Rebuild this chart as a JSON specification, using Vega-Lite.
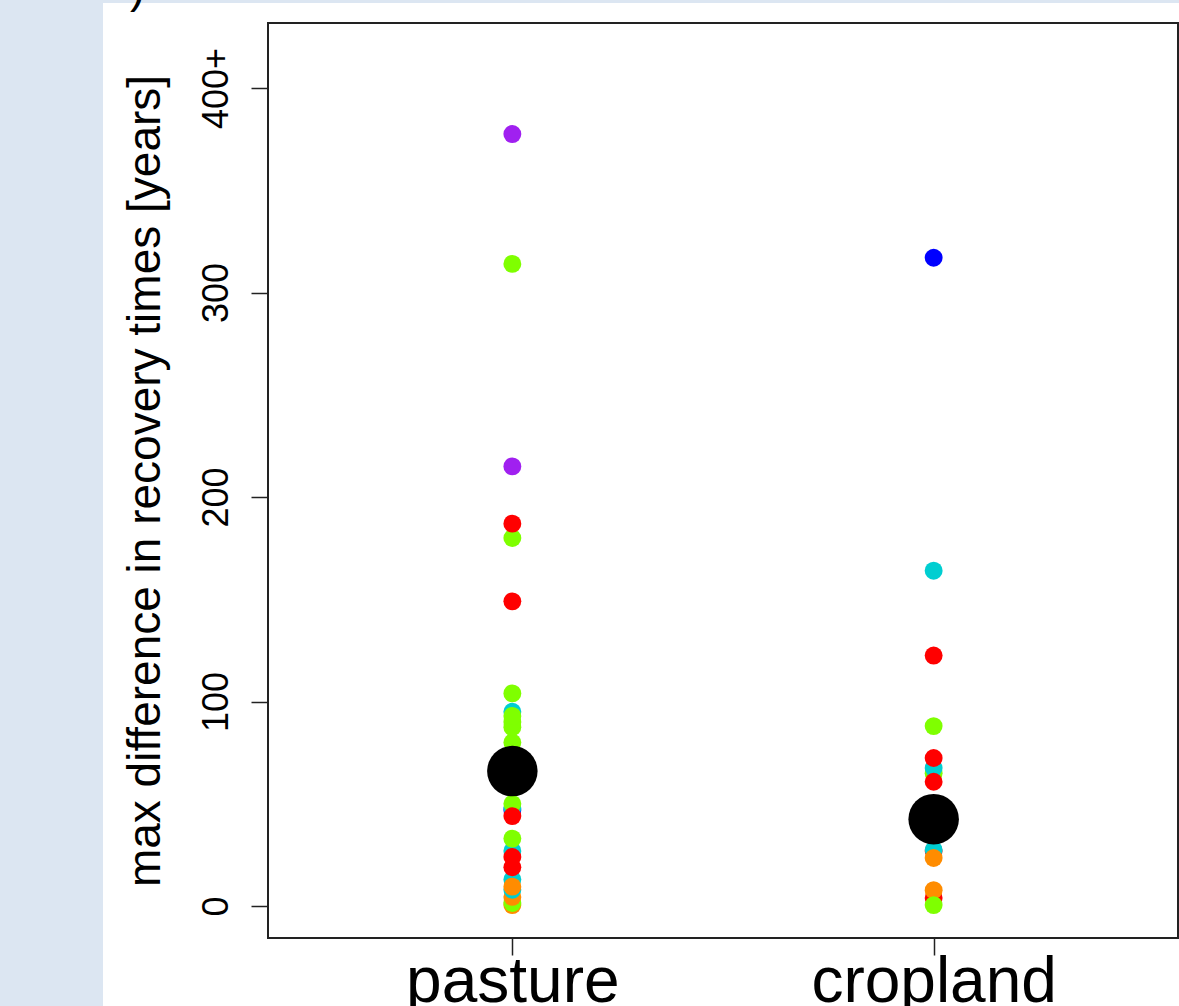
{
  "$schema": "https://vega.github.io/schema/vega-lite/v6.json",
  "autosize": {"type": "none"},
  "width": 910,
  "height": 915,
  "padding": {"left": 268, "top": 23, "right": 1, "bottom": 68},
  "background": "#dce6f2",
  "title": {"text": ")", "anchor": "start", "frame": "group", "dx": -138, "dy": 45, "offset": 0, "baseline": "alphabetic", "fontSize": 46, "fontWeight": "normal", "font": "Liberation Sans", "color": "black", "zindex": 2},
  "config": {
    "font": "Liberation Sans",
    "view": {"stroke": null},
    "axis": {"grid": false, "domain": false, "tickColor": "#222222", "tickWidth": 1.5, "tickSize": 17, "labelColor": "black", "titleColor": "black", "labelFont": "Liberation Sans", "titleFont": "Liberation Sans", "titleFontWeight": "normal"}
  },
  "datasets": {
    "obs": [
      {"land": "pasture", "class": "group 6", "value": 0.5},
      {"land": "pasture", "class": "group 2", "value": 1.5},
      {"land": "pasture", "class": "group 6", "value": 4.5},
      {"land": "pasture", "class": "group 4", "value": 13},
      {"land": "pasture", "class": "group 4", "value": 8},
      {"land": "pasture", "class": "group 6", "value": 9.5},
      {"land": "pasture", "class": "group 4", "value": 27},
      {"land": "pasture", "class": "group 3", "value": 19},
      {"land": "pasture", "class": "group 3", "value": 24},
      {"land": "pasture", "class": "group 2", "value": 33},
      {"land": "pasture", "class": "group 5", "value": 47},
      {"land": "pasture", "class": "group 4", "value": 48},
      {"land": "pasture", "class": "group 2", "value": 50},
      {"land": "pasture", "class": "group 3", "value": 44},
      {"land": "pasture", "class": "group 2", "value": 80},
      {"land": "pasture", "class": "group 4", "value": 95},
      {"land": "pasture", "class": "group 2", "value": 87.5},
      {"land": "pasture", "class": "group 2", "value": 90},
      {"land": "pasture", "class": "group 2", "value": 93},
      {"land": "pasture", "class": "group 2", "value": 104},
      {"land": "pasture", "class": "group 3", "value": 149},
      {"land": "pasture", "class": "group 2", "value": 180},
      {"land": "pasture", "class": "group 3", "value": 187},
      {"land": "pasture", "class": "group 1", "value": 215},
      {"land": "pasture", "class": "group 2", "value": 314},
      {"land": "pasture", "class": "group 1", "value": 377.5},
      {"land": "cropland", "class": "group 3", "value": 4},
      {"land": "cropland", "class": "group 6", "value": 7.8},
      {"land": "cropland", "class": "group 2", "value": 0.5},
      {"land": "cropland", "class": "group 3", "value": 27},
      {"land": "cropland", "class": "group 4", "value": 27.5},
      {"land": "cropland", "class": "group 6", "value": 23.5},
      {"land": "cropland", "class": "group 2", "value": 65},
      {"land": "cropland", "class": "group 4", "value": 67.5},
      {"land": "cropland", "class": "group 3", "value": 60.8},
      {"land": "cropland", "class": "group 3", "value": 72.4},
      {"land": "cropland", "class": "group 2", "value": 88},
      {"land": "cropland", "class": "group 3", "value": 122.5},
      {"land": "cropland", "class": "group 4", "value": 164},
      {"land": "cropland", "class": "group 5", "value": 317}
    ],
    "summary": [
      {"land": "pasture", "value": 66},
      {"land": "cropland", "value": 42.5}
    ]
  },
  "layer": [
    {
      "data": {"values": [{}]},
      "layer": [
        {
          "mark": {"type": "rect", "fill": "white", "clip": false},
          "encoding": {
            "x": {"datum": -0.1813, "type": "quantitative", "scale": {"domain": [0, 1], "nice": false, "zero": false}, "axis": null},
            "x2": {"datum": 1.01},
            "y": {"datum": -49, "type": "quantitative", "scale": {"domain": [-15.6, 431.8], "nice": false, "zero": false},
                  "axis": {"values": [0, 100, 200, 300, 400], "zindex": 1, "labelExpr": "datum.value == 400 ? '400+' : datum.label", "labelAngle": 270, "labelAlign": "center", "labelBaseline": "alphabetic", "labelPadding": 24, "labelFontSize": 36, "title": "max difference in recovery times [years]", "titleFontSize": 46, "titleBaseline": "alphabetic", "titlePadding": 39}},
            "y2": {"datum": 441.6}
          }
        },
        {
          "mark": {"type": "rect", "fill": null, "fillOpacity": 0, "stroke": "#222222", "strokeWidth": 2, "clip": false},
          "encoding": {
            "x": {"datum": 0, "type": "quantitative", "scale": {"domain": [0, 1], "nice": false, "zero": false}, "axis": null},
            "x2": {"datum": 1},
            "y": {"datum": -15.6, "type": "quantitative"},
            "y2": {"datum": 431.8}
          }
        }
      ]
    },
    {
      "layer": [
        {
          "data": {"name": "obs"},
          "mark": {"type": "point", "filled": true, "opacity": 1, "size": 320, "shape": "circle"},
          "encoding": {
            "x": {"field": "land", "type": "nominal", "sort": ["pasture", "cropland"], "scale": {"type": "point", "padding": 0.58},
                  "axis": {"title": null, "zindex": 1, "labelAngle": 0, "labelFontSize": 64, "labelLimit": 0, "labelBaseline": "alphabetic", "labelPadding": 46}},
            "y": {"field": "value", "type": "quantitative"},
            "color": {"field": "class", "type": "nominal", "legend": null,
                      "scale": {"domain": ["group 1", "group 2", "group 3", "group 4", "group 5", "group 6"], "range": ["#a020f0", "#7fff00", "#ff0000", "#00ced1", "#0000ff", "#ff8c00"]}}
          }
        },
        {
          "data": {"name": "summary"},
          "mark": {"type": "point", "filled": true, "opacity": 1, "size": 2550, "shape": "circle", "color": "black"},
          "encoding": {
            "x": {"field": "land", "type": "nominal", "sort": ["pasture", "cropland"]},
            "y": {"field": "value", "type": "quantitative"}
          }
        }
      ]
    }
  ],
  "resolve": {"scale": {"x": "independent"}}
}
